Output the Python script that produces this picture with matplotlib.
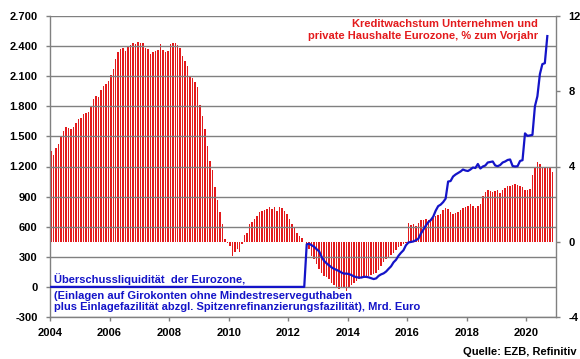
import numpy as np
import matplotlib
matplotlib.use("Agg")
import matplotlib.pyplot as plt

plt.rcParams['font.family'] = ['Liberation Sans', 'DejaVu Sans']
plt.rcParams['font.weight'] = 'bold'

start_year = 2004

# Kreditwachstum (% yoy), monthly Jan 2004 - Nov 2020 (right axis)
credit_growth = [
    4.8, 4.6, 5.0, 5.2, 5.6, 5.9, 6.1, 6.05, 6.0, 6.1, 6.3, 6.5,            # 2004
    6.6, 6.8, 6.85, 6.9, 7.2, 7.6, 7.75, 7.7, 8.05, 8.3, 8.4, 8.55,          # 2005
    8.85, 9.2, 9.7, 10.1, 10.25, 10.3, 10.15, 10.35, 10.45, 10.55, 10.5, 10.6,  # 2006
    10.58, 10.58, 10.3, 10.25, 10.0, 10.1, 10.15, 10.2, 10.5, 10.2, 10.1, 10.15,  # 2007
    10.5, 10.56, 10.56, 10.45, 10.3, 9.87, 9.6, 9.33, 8.8, 8.7, 8.5, 8.2,    # 2008
    7.25, 6.7, 6.0, 5.1, 4.3, 3.8, 2.9, 2.2, 1.56, 0.94, 0.14, -0.05,        # 2009
    -0.2, -0.78, -0.53, -0.4, -0.57, -0.12, 0.36, 0.46, 0.94, 1.07, 1.2, 1.39,  # 2010
    1.56, 1.65, 1.69, 1.74, 1.83, 1.74, 1.83, 1.65, 1.83, 1.78, 1.65, 1.47,  # 2011
    1.2, 0.94, 0.72, 0.44, 0.3, 0.18, 0.0, -0.21, -0.39, -0.75, -0.92, -1.19,  # 2012
    -1.46, -1.64, -1.81, -1.9, -1.96, -2.17, -2.31, -2.44, -2.53, -2.38, -2.44, -2.61,  # 2013
    -2.45, -2.3, -2.2, -2.1, -2.0, -1.95, -1.9, -1.85, -1.8, -1.75, -1.7, -1.65,  # 2014
    -1.5, -1.3, -1.1, -0.9, -0.8, -0.7, -0.6, -0.45, -0.3, -0.2, -0.1, -0.05,  # 2015
    1.0, 0.91, 0.96, 0.85, 1.0, 1.14, 1.17, 1.21, 1.17, 1.21, 1.24, 1.35,    # 2016
    1.44, 1.48, 1.71, 1.8, 1.74, 1.56, 1.49, 1.53, 1.56, 1.67, 1.8, 1.85,    # 2017
    1.88, 2.03, 1.88, 1.8, 1.88, 2.03, 2.45, 2.63, 2.74, 2.68, 2.63, 2.68,   # 2018
    2.77, 2.6, 2.77, 2.86, 2.95, 2.99, 3.02, 3.09, 3.04, 2.95, 2.92, 2.77,   # 2019
    2.74, 2.81, 3.57, 4.0, 4.22, 4.15, 4.0, 3.97, 4.0, 3.91, 3.7,            # 2020
]

# Überschussliquidität (Mrd. Euro), monthly Jan 2004 - Sep 2020 (left axis)
excess_liquidity = [0] * 103 + [
    425, 430, 415, 400, 375,                                                 # Aug-Dec 2012
    355, 300, 260, 235, 215, 195, 180, 170, 158, 143, 132, 133,              # 2013
    128, 118, 105, 97, 93, 93, 100, 100, 95, 87, 78, 85,                     # 2014
    110, 125, 135, 153, 180, 205, 245, 270, 310, 340, 365, 415,              # 2015
    443, 448, 453, 465, 480, 530, 570, 610, 645, 665, 700, 760,              # 2016
    805, 820, 845, 880, 1050, 1055, 1100, 1120, 1135, 1150, 1170, 1160,      # 2017
    1155, 1170, 1190, 1185, 1225, 1180, 1200, 1210, 1240, 1245, 1250, 1210,  # 2018
    1203, 1215, 1240, 1250, 1265, 1270, 1205, 1200, 1203, 1255, 1263, 1530,  # 2019
    1505, 1510, 1515, 1800, 1900, 2120, 2220, 2230, 2500,                    # 2020
]

x_ticks = [2004, 2006, 2008, 2010, 2012, 2014, 2016, 2018, 2020]
left_ticks = [-300, 0, 300, 600, 900, 1200, 1500, 1800, 2100, 2400, 2700]
right_ticks = [-4, 0, 4, 8, 12]

title_red = "Kreditwachstum Unternehmen und\nprivate Haushalte Eurozone, % zum Vorjahr"
label_blue_1 = "Überschussliquidität  der Eurozone,"
label_blue_2 = ("(Einlagen auf Girokonten ohne Mindestreserveguthaben\n"
                "plus Einlagefazilität abzgl. Spitzenrefinanzierungsfazilität), Mrd. Euro")
source = "Quelle: EZB, Refinitiv"


def de_fmt(v):
    return f"{v:,}".replace(",", ".")


red = '#e31a1c'
blue = '#1414c8'
grey = '#808080'

fig = plt.figure(figsize=(5.8, 3.59), dpi=100)
ax = fig.add_axes([50 / 580, 42 / 359, 506 / 580, 301 / 359])
ax2 = ax.twinx()

x_bar = start_year + (np.arange(len(credit_growth)) + 0.5) / 12
ax2.bar(x_bar, credit_growth, width=0.05, color=red, linewidth=0)

x_line = start_year + (np.arange(len(excess_liquidity)) + 0.5) / 12
ax.plot(x_line, excess_liquidity, color=blue, lw=1.6, zorder=5)

ax.set_zorder(ax2.get_zorder() + 1)
ax.patch.set_visible(False)

ax.set_xlim(2004, 2021)
ax.set_ylim(-300, 2700)
ax2.set_ylim(-4, 12)

ax.set_yticks(left_ticks)
ax.set_yticklabels([de_fmt(v) for v in left_ticks])
ax2.set_yticks(right_ticks)
ax2.set_yticklabels([str(v) for v in right_ticks])
ax.set_xticks(x_ticks)
ax.set_xticklabels([str(v) for v in x_ticks])

ax.yaxis.grid(True, color=grey, lw=1.0)
ax.set_axisbelow(False)

for a in (ax, ax2):
    for s in a.spines.values():
        s.set_color(grey)
        s.set_linewidth(1.0)
    a.spines['top'].set_visible(False)
ax.spines['right'].set_visible(False)
ax2.spines['left'].set_visible(False)
ax2.spines['bottom'].set_visible(False)

ax.tick_params(axis='y', length=3, width=1, color=grey, pad=6, labelsize=8)
ax.tick_params(axis='x', length=3, width=1, color=grey, pad=5, labelsize=8)
ax2.tick_params(axis='y', length=3, width=1, color=grey, pad=6, labelsize=8)

ax.text(0.964, 0.99, title_red, transform=ax.transAxes, ha='right', va='top',
        color=red, fontsize=8, fontweight='bold', linespacing=1.2, multialignment='right')
ax.text(0.008, 0.126, label_blue_1, transform=ax.transAxes, ha='left', va='center',
        color=blue, fontsize=8, fontweight='bold')
ax.text(0.008, 0.052, label_blue_2, transform=ax.transAxes, ha='left', va='center',
        color=blue, fontsize=8, fontweight='bold', linespacing=1.2)
fig.text(577 / 580, 1 - 352 / 359, source, ha='right', va='center',
         color='black', fontsize=8, fontweight='bold')

fig.savefig('out.png', dpi=100)
